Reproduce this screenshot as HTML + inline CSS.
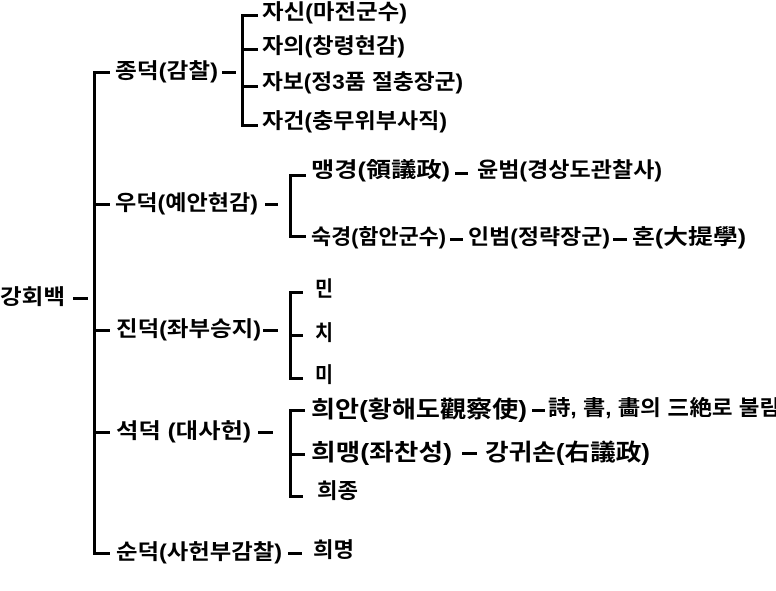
<!DOCTYPE html>
<html><head><meta charset="utf-8"><style>
body{margin:0;width:776px;height:591px;background:#fff;position:relative;overflow:hidden;font-family:"Liberation Sans","Noto Sans CJK KR",sans-serif;font-weight:bold;color:#000}
.t{position:absolute;white-space:nowrap;font-size:21px;line-height:20px;transform-origin:0 50%}
.b{font-size:23px;line-height:22px}
.h{position:absolute;height:3px;background:#000}
.v{position:absolute;width:3px;background:#000}
</style></head><body>
<div class="t" style="left:0;top:288px;--w:65">강회백</div>
<div class="h" style="left:73px;top:297px;width:15px"></div>
<div class="v" style="left:93px;top:71px;height:484px"></div>
<div class="h" style="left:93px;top:71px;width:17px"></div>
<div class="h" style="left:93px;top:203px;width:17px"></div>
<div class="h" style="left:93px;top:329px;width:17px"></div>
<div class="h" style="left:93px;top:431px;width:17px"></div>
<div class="h" style="left:93px;top:552px;width:17px"></div>

<div class="t" style="left:115px;top:62px;--w:103">종덕(감찰)</div>
<div class="h" style="left:222px;top:71px;width:14px"></div>
<div class="v" style="left:241px;top:14px;height:113px"></div>
<div class="h" style="left:241px;top:14px;width:17px"></div>
<div class="h" style="left:241px;top:48px;width:17px"></div>
<div class="h" style="left:241px;top:85px;width:17px"></div>
<div class="h" style="left:241px;top:124px;width:17px"></div>
<div class="t" style="left:262px;top:3px;--w:145">자신(마전군수)</div>
<div class="t" style="left:262px;top:37px;--w:143">자의(창령현감)</div>
<div class="t" style="left:262px;top:73px;--w:201">자보(정3품 절충장군)</div>
<div class="t" style="left:262px;top:112px;--w:185">자건(충무위부사직)</div>

<div class="t" style="left:115px;top:194px;--w:143">우덕(예안현감)</div>
<div class="h" style="left:265px;top:203px;width:13px"></div>
<div class="v" style="left:289px;top:174px;height:64px"></div>
<div class="h" style="left:289px;top:174px;width:17px"></div>
<div class="h" style="left:289px;top:235px;width:17px"></div>
<div class="t" style="left:311px;top:161px;--w:139">맹경(領議政)</div>
<div class="h" style="left:455px;top:172px;width:13px"></div>
<div class="t" style="left:477px;top:161px;--w:185">윤범(경상도관찰사)</div>
<div class="t" style="left:311px;top:228px;--w:135">숙경(함안군수)</div>
<div class="h" style="left:450px;top:238px;width:13px"></div>
<div class="t" style="left:468px;top:228px;--w:142">인범(정략장군)</div>
<div class="h" style="left:613px;top:238px;width:14px"></div>
<div class="t" style="left:632px;top:228px;--w:114">혼(大提學)</div>

<div class="t" style="left:116px;top:320px;--w:145">진덕(좌부승지)</div>
<div class="h" style="left:263px;top:329px;width:15px"></div>
<div class="v" style="left:289px;top:291px;height:89px"></div>
<div class="h" style="left:289px;top:291px;width:14px"></div>
<div class="h" style="left:289px;top:334px;width:14px"></div>
<div class="h" style="left:289px;top:377px;width:14px"></div>
<div class="t" style="left:315px;top:280px;--w:18">민</div>
<div class="t" style="left:315px;top:324px;--w:18">치</div>
<div class="t" style="left:315px;top:366px;--w:18">미</div>

<div class="t" style="left:116px;top:422px;--w:135">석덕 (대사헌)</div>
<div class="h" style="left:258px;top:431px;width:15px"></div>
<div class="v" style="left:289px;top:409px;height:89px"></div>
<div class="h" style="left:289px;top:409px;width:16px"></div>
<div class="h" style="left:289px;top:453px;width:16px"></div>
<div class="h" style="left:289px;top:495px;width:14px"></div>
<div class="t b" style="left:311px;top:398px;--w:216">희안(황해도觀察使)</div>
<div class="h" style="left:532px;top:409px;width:13px"></div>
<div class="t" style="left:548px;top:399px;--w:232">詩, 書, 畵의 三絶로 불림</div>
<div class="t b" style="left:311px;top:441px;--w:141">희맹(좌찬성)</div>
<div class="h" style="left:462px;top:452px;width:15px"></div>
<div class="t b" style="left:485px;top:441px;--w:165">강귀손(右議政)</div>
<div class="t" style="left:317px;top:482px;--w:41">희종</div>

<div class="t" style="left:116px;top:543px;--w:166">순덕(사헌부감찰)</div>
<div class="h" style="left:288px;top:552px;width:14px"></div>
<div class="t" style="left:313px;top:541px;--w:41">희명</div>
<script>
document.querySelectorAll('.t').forEach(function(e){
  var w=parseFloat(getComputedStyle(e).getPropertyValue('--w'));
  var r=e.getBoundingClientRect().width;
  if(w&&r) e.style.transform='scaleX('+(w/r)+')';
});
</script>
</body></html>
